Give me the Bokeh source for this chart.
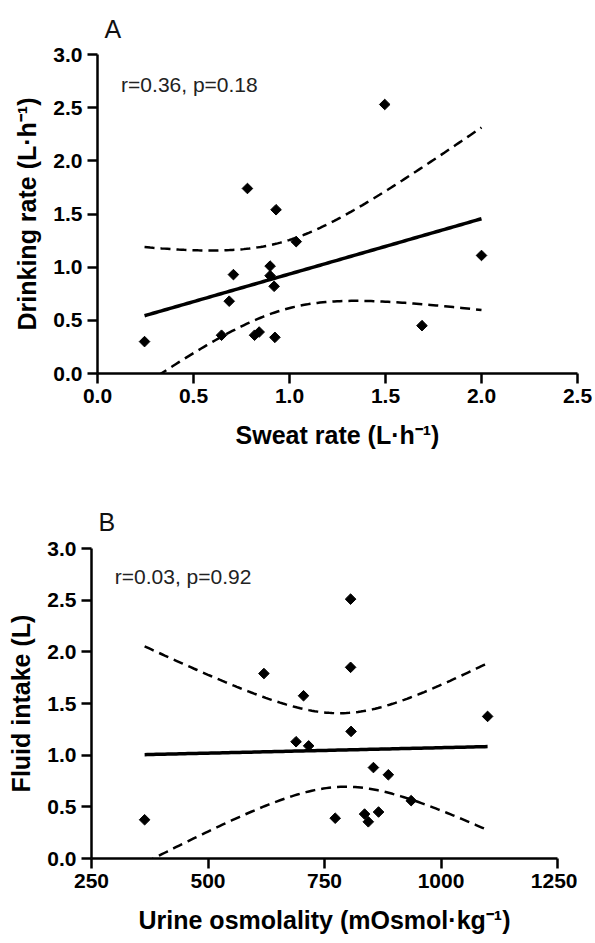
import numpy as np
from bokeh.plotting import figure
from bokeh.layouts import column, row
from bokeh.models import Range1d, FixedTicker, NumeralTickFormatter, Label
from bokeh.embed import file_html
from bokeh.resources import INLINE

# ---- Data ----
sweat_rate = [0.245, 0.646, 0.686, 0.708, 0.781, 0.818, 0.842, 0.899, 0.899, 0.92, 0.924, 0.93, 1.035, 1.496, 1.69, 2.0]
drinking_rate = [0.30, 0.36, 0.68, 0.93, 1.74, 0.36, 0.39, 1.01, 0.92, 0.82, 0.34, 1.54, 1.24, 2.53, 0.45, 1.11]

osmolality = [364, 620, 689, 705, 716, 773, 806, 806, 807, 836, 844, 855, 866, 887, 936, 1100]
fluid_intake = [0.375, 1.79, 1.13, 1.575, 1.09, 0.39, 2.51, 1.85, 1.23, 0.43, 0.355, 0.88, 0.45, 0.81, 0.56, 1.375]

a_xticks = [0.0, 0.5, 1.0, 1.5, 2.0, 2.5]
a_yticks = [0.0, 0.5, 1.0, 1.5, 2.0, 2.5, 3.0]
b_xticks = [250, 500, 750, 1000, 1250]
b_yticks = [0.0, 0.5, 1.0, 1.5, 2.0, 2.5, 3.0]

stat_a = "r=0.36, p=0.18"
stat_b = "r=0.03, p=0.92"

T_CRIT = 2.145  # t(0.975, df=14)

FONT = "Liberation Sans"


def fit(x, y):
    x = np.asarray(x, float)
    y = np.asarray(y, float)
    n = len(x)
    mx, my = x.mean(), y.mean()
    sxx = ((x - mx) ** 2).sum()
    sxy = ((x - mx) * (y - my)).sum()
    slope = sxy / sxx
    icpt = my - slope * mx
    res = y - (icpt + slope * x)
    s = np.sqrt((res ** 2).sum() / (n - 2))
    xs = np.linspace(x.min(), x.max(), 120)
    yh = icpt + slope * xs
    se = s * np.sqrt(1.0 / n + (xs - mx) ** 2 / sxx)
    return xs, yh, yh - T_CRIT * se, yh + T_CRIT * se


def make_panel(x, y, xr, yr, xticks, yticks, xfmt, xlabel, ylabel, width, height,
               bl, br, bt, bb, letter, title_standoff, stat, stat_xy):
    p = figure(width=width, height=height, output_backend="svg", toolbar_location=None,
               x_range=Range1d(*xr), y_range=Range1d(*yr),
               min_border_left=bl, min_border_right=br, min_border_top=bt, min_border_bottom=bb)
    p.outline_line_color = None
    p.grid.visible = False
    p.background_fill_color = "white"
    p.border_fill_color = "white"

    p.title.text = letter
    p.title.align = "left"
    p.title.offset = 7
    p.title.standoff = title_standoff
    p.title.text_font = FONT
    p.title.text_font_size = "25px"
    p.title.text_font_style = "normal"
    p.title.text_color = "#111111"

    xs, yh, lo, hi = fit(x, y)
    p.line(xs, hi, line_color="black", line_width=2.5, line_dash="10 6")
    p.line(xs, lo, line_color="black", line_width=2.5, line_dash="10 6")
    p.line(xs, yh, line_color="black", line_width=3.5)
    p.scatter(x, y, marker="square", angle=np.pi / 4, size=7.5, fill_color="black", line_color="black")

    for ax in (p.xaxis[0], p.yaxis[0]):
        ax.axis_line_width = 2.5
        ax.axis_line_color = "black"
        ax.major_tick_line_width = 2.5
        ax.major_tick_line_color = "black"
        ax.major_tick_out = 10
        ax.major_tick_in = 0
        ax.minor_tick_line_color = None
        ax.major_label_text_font = FONT
        ax.major_label_text_font_size = "21px"
        ax.major_label_text_font_style = "bold"
        ax.major_label_text_color = "black"
        ax.major_label_standoff = 5
        ax.axis_label_text_font = FONT
        ax.axis_label_text_font_size = "25px"
        ax.axis_label_text_font_style = "bold"
        ax.axis_label_text_color = "black"
        ax.axis_label_standoff = 9
    p.xaxis[0].axis_label_standoff = 15

    p.xaxis.ticker = FixedTicker(ticks=xticks)
    p.yaxis.ticker = FixedTicker(ticks=yticks)
    p.xaxis.formatter = NumeralTickFormatter(format=xfmt)
    p.yaxis.formatter = NumeralTickFormatter(format="0.0")
    p.xaxis.axis_label = xlabel
    p.yaxis.axis_label = ylabel

    p.add_layout(Label(x=stat_xy[0], y=stat_xy[1], text=stat, text_align="left",
                       text_baseline="alphabetic", text_font=FONT, text_font_size="21px",
                       text_color="#222222"))
    return p


pa = make_panel(sweat_rate, drinking_rate, (0, 2.5), (0, 3.0), a_xticks, a_yticks, "0.0",
                "Sweat rate (L\u00b7h\u207b\u00b9)", "Drinking rate (L\u00b7h\u207b\u00b9)",
                width=592, height=473, bl=97, br=15, bt=53, bb=100,
                letter="A", title_standoff=24, stat=stat_a, stat_xy=(0.123, 2.72))

pb = make_panel(osmolality, fluid_intake, (250, 1250), (0, 3.0), b_xticks, b_yticks, "0",
                "Urine osmolality (mOsmol\u00b7kg\u207b\u00b9)", "Fluid intake (L)",
                width=577, height=469, bl=91, br=20, bt=75, bb=84,
                letter="B", title_standoff=26, stat=stat_b, stat_xy=(300, 2.727))

layout = column(row(pa), row(pb), spacing=0)
open("out.html", "w").write(file_html(layout, INLINE))
